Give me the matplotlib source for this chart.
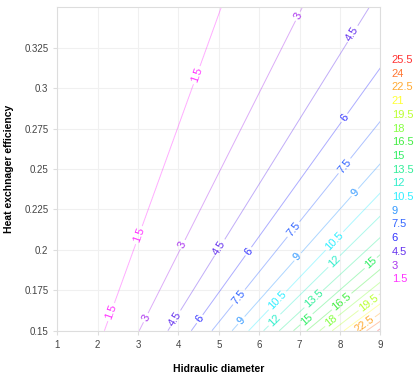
import numpy as np
import matplotlib
matplotlib.use("Agg")
import matplotlib.pyplot as plt

plt.rcParams["font.family"] = ["Liberation Sans", "DejaVu Sans"]

# contour levels and where each one meets the bottom edge (efficiency = 0.15)
levels = [1.5, 3, 4.5, 6, 7.5, 9, 10.5, 12, 13.5, 15, 16.5, 18, 19.5, 21, 22.5, 24, 25.5]
cross_d = [2.17, 3.03, 3.74, 4.32, 4.83, 5.33, 5.74, 6.11, 6.50, 6.85, 7.18, 7.50,
           7.81, 8.10, 8.39, 8.66, 8.93]
cross_eff = 0.15

colors = ["#ff33ff", "#aa33ee", "#6633ee", "#3333ff", "#3366ff", "#3399ff", "#33eeff",
          "#33eecc", "#33ee99", "#33ee66", "#44ee44", "#88ff44", "#bbff33", "#ffff33",
          "#ffaa33", "#ff7733", "#ff3333"]

label_pos = [(2.33, 0.1616), (3.03, 0.209), (4.46, 0.308),
             (3.22, 0.1577), (4.13, 0.203), (7.0, 0.344),
             (3.96, 0.157), (5.05, 0.201), (8.35, 0.333),
             (4.54, 0.157), (5.74, 0.199), (8.11, 0.2817),
             (5.49, 0.171), (6.86, 0.2125), (8.11, 0.252),
             (5.53, 0.157), (6.94, 0.196), (8.35, 0.236),
             (6.44, 0.169), (7.85, 0.2058),
             (6.38, 0.1566), (7.85, 0.193),
             (7.34, 0.170),
             (7.15, 0.1577), (8.76, 0.192),
             (8.01, 0.169),
             (7.77, 0.1566),
             (8.72, 0.167),
             (8.59, 0.1546)]

# lines of constant diameter/efficiency ratio
ratios = np.array(cross_d) / cross_eff
lv = np.array(levels)
r_ext = np.concatenate([[0.0], ratios, [ratios[-1] + 5]])
slope = (lv[-1] - lv[-2]) / (ratios[-1] - ratios[-2])
z_ext = np.concatenate([[0.0], lv, [lv[-1] + 5 * slope]])

D, E = np.meshgrid(np.linspace(1, 9, 400), np.linspace(0.15, 0.35, 400))
Z = np.interp(D / E, r_ext, z_ext)

fig = plt.figure(figsize=(4.2, 3.73), dpi=100)
ax = fig.add_axes([0.1364, 0.1134, 0.7691, 0.867])

cs = ax.contour(D, E, Z, levels=levels, colors=colors, linewidths=0.7, alpha=0.4)
txts = ax.clabel(cs, levels, inline=True, inline_spacing=2, fontsize=8,
                 fmt=lambda v: f"{v:g}", manual=label_pos)
for t in txts:
    t.set_alpha(1)
    col = colors[levels.index(float(t.get_text()))]
    t.set_color(col)

ax.set_xlim(1, 9)
ax.set_ylim(0.15, 0.35)
ax.set_xticks(range(1, 10))
yt = [0.15, 0.175, 0.2, 0.225, 0.25, 0.275, 0.3, 0.325]
ax.set_yticks(yt)
ax.set_yticklabels([f"{v:g}" for v in yt])
ax.grid(color="#f0f0f0", lw=0.8)
ax.set_axisbelow(True)
for s in ax.spines.values():
    s.set_color("#dddddd")
    s.set_linewidth(0.8)
ax.tick_params(labelsize=7, colors="#dddddd", labelcolor="#444444", length=3, width=0.8)

ax.set_xlabel("Hidraulic diameter", fontsize=7.5, fontweight="bold", labelpad=10)
ax.set_ylabel("Heat exchnager efficiency", fontsize=7.5, fontweight="bold", labelpad=7)

# legend of levels, top = highest
ys = np.linspace(1 - 60 / 373, 1 - 279.3 / 373, len(levels))
for y, lvl, c in zip(ys, levels[::-1], colors[::-1]):
    fig.text(0.933, y, f"{lvl:g}", color=c, fontsize=8, va="center", ha="left")

fig.savefig("out.png", dpi=100)
